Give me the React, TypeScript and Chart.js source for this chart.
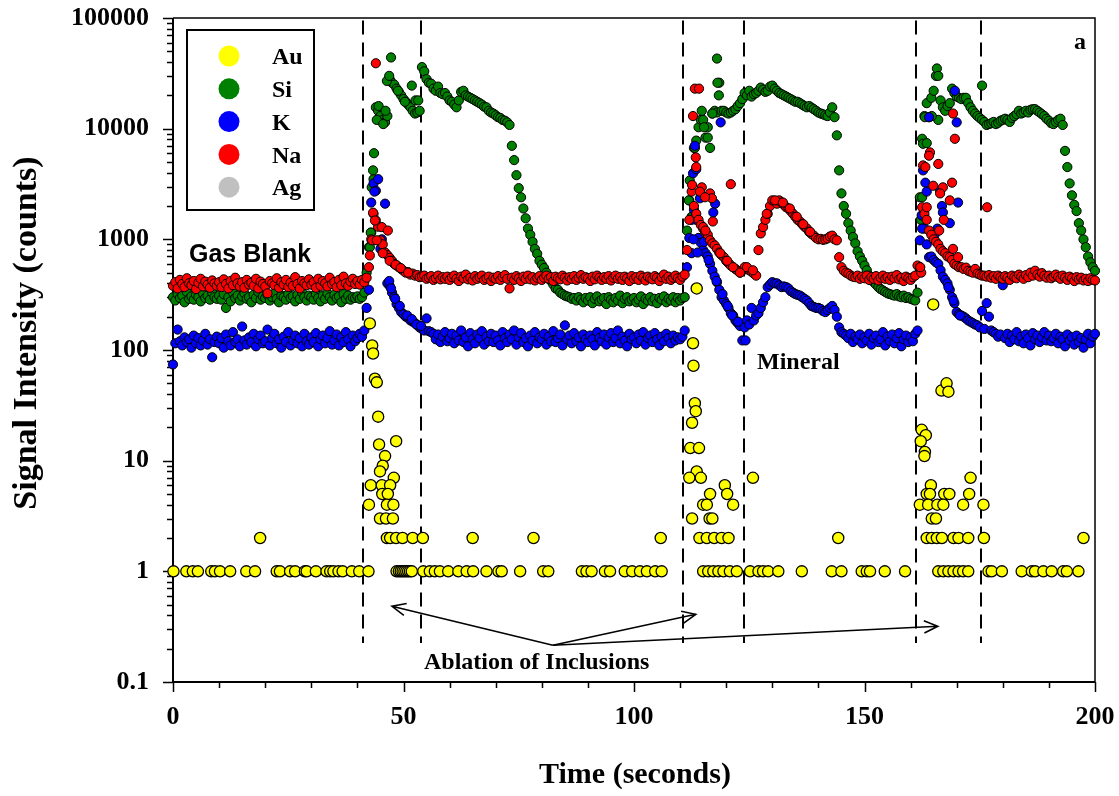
import { useEffect, useRef } from 'react';
import { Chart, registerables } from 'chart.js';

Chart.register(...registerables);

// ---------- DATA ----------
// Regular sweeps: one reading every 0.5 s from t = 0 s to t = 200 s.
const T_START = 0;
const T_STEP = 0.5;

const NA: number[] = [
  380, 410, 360, 430, 395, 370, 445, 400, 385, 420, 355, 405, 440, 375, 415, 390, 365, 425, 400, 380, // 0
  410, 370, 435, 395, 360, 420, 385, 450, 400, 375, 410, 365, 430, 390, 405, 380, 440, 360, 415, 395, // 10
  375, 325, 420, 400, 385, 445, 365, 410, 390, 430, 370, 405, 380, 455, 395, 360, 420, 400, 385, 435, // 20
  390, 410, 365, 440, 380, 420, 400, 375, 450, 395, 410, 370, 430, 385, 460, 400, 380, 415, 440, 395, // 30
  420, 390, 430, 410, 450, 560, 1000, 1700, 1480, 1300, 980, 900, 760, 720, 680, 640, 600, 580, 560, 540, // 40
  520, 500, 505, 480, 490, 470, 475, 455, 460, 470, 440, 450, 465, 430, 445, 470, 435, 455, 440, 460, // 50
  430, 455, 470, 440, 420, 460, 445, 480, 435, 450, 425, 465, 440, 455, 470, 430, 445, 460, 420, 450, // 60
  440, 465, 430, 455, 475, 440, 360, 450, 430, 465, 445, 420, 460, 440, 470, 435, 455, 425, 450, 465, // 70
  430, 450, 470, 440, 455, 420, 460, 445, 435, 470, 450, 425, 455, 440, 465, 430, 450, 475, 440, 455, // 80
  445, 420, 460, 435, 470, 450, 430, 455, 440, 465, 425, 450, 470, 440, 455, 430, 460, 445, 420, 465, // 90
  440, 455, 430, 470, 450, 425, 460, 445, 435, 465, 450, 420, 455, 480, 440, 460, 430, 450, 470, 445, // 100
  430, 460, 480, 800, 1500, 2700, 2000, 1700, 1500, 1350, 1250, 1150, 1100, 980, 920, 880, 820, 760, 720, 690, // 110
  640, 610, 580, 560, 540, 520, 500, 520, 560, 540, 525, 510, 490, 470, 800, 1130, 1290, 1500, 1700, 2000, // 120
  2250, 2200, 2100, 2250, 2150, 2050, 1950, 1900, 1800, 1700, 1600, 1500, 1450, 1370, 1300, 1250, 1170, 1120, 1080, 1030, // 130
  1000, 1010, 990, 1000, 1020, 1060, 1080, 1000, 980, 690, 560, 520, 500, 490, 470, 460, 455, 470, 440, 460, // 140
  445, 470, 430, 455, 440, 465, 425, 450, 470, 440, 455, 430, 460, 445, 475, 435, 450, 420, 460, 445, // 150
  430, 455, 470, 580, 560, 1950, 1700, 1500, 1200, 1100, 1000, 950, 900, 820, 780, 750, 700, 690, 650, 600, // 160
  580, 560, 560, 540, 555, 520, 510, 500, 540, 490, 480, 470, 470, 460, 475, 450, 465, 440, 470, 455, // 170
  440, 465, 450, 430, 470, 455, 445, 480, 460, 440, 475, 455, 500, 470, 520, 480, 460, 495, 470, 450, // 180
  470, 445, 460, 480, 455, 440, 470, 450, 430, 460, 445, 420, 455, 435, 450, 425, 440, 420, 445, 430, // 190
  425,
];

const SI: number[] = [
  300, 280, 320, 295, 310, 270, 335, 290, 305, 285, 315, 300, 275, 325, 295, 310, 285, 330, 300, 290, // 0
  310, 285, 320, 240, 300, 275, 330, 295, 310, 280, 305, 325, 290, 300, 270, 315, 295, 335, 285, 305, // 10
  295, 315, 280, 300, 325, 290, 270, 310, 300, 285, 320, 295, 305, 275, 315, 290, 330, 300, 280, 310, // 20
  300, 285, 320, 295, 275, 310, 290, 325, 300, 280, 315, 295, 305, 270, 320, 290, 310, 285, 300, 295, // 30
  305, 290, 300, 330, 500, 850, 1150, 3500, 15600, 14500, 13000, 12000, 11400, 13000, 28000, 26000, 25000, 23000, 21500, 20000, // 40
  18500, 17500, 16500, 15600, 14500, 13700, 14000, 14500, 36000, 33000, 28000, 26000, 25500, 23000, 22000, 24000, 21000, 20500, 21000, 19500, // 50
  18000, 17500, 16500, 15600, 18000, 21500, 22000, 20000, 19500, 19000, 18500, 18000, 17500, 17000, 16500, 15800, 15600, 14500, 14000, 13700, // 60
  13200, 12700, 12500, 12000, 11800, 11400, 10800, 7000, 5200, 3800, 2900, 2400, 1900, 1550, 1250, 1100, 950, 820, 740, 640, // 70
  590, 550, 500, 460, 420, 390, 360, 350, 330, 320, 310, 305, 300, 290, 295, 280, 300, 285, 270, 295, // 80
  280, 300, 265, 290, 305, 275, 285, 295, 260, 300, 285, 270, 295, 280, 310, 265, 290, 300, 275, 285, // 90
  295, 270, 285, 305, 260, 290, 280, 300, 275, 290, 265, 295, 285, 305, 270, 290, 280, 300, 270, 295, // 100
  280, 295, 300, 1200, 2250, 1600, 6700, 7800, 10300, 12000, 12000, 8300, 10300, 6700, 13700, 14500, 14000, 26000, 14500, 14500, // 110
  14000, 13700, 14000, 14500, 15000, 16000, 17000, 18500, 21000, 20000, 22000, 19500, 20500, 21000, 22000, 23500, 22500, 21500, 22000, 24000, // 120
  24500, 23000, 22000, 21000, 20500, 20000, 19500, 19000, 18500, 18000, 17500, 17500, 17000, 16500, 16000, 15600, 16000, 15500, 15000, 14500, // 130
  14000, 13700, 13500, 13200, 13000, 14000, 15600, 12700, 8700, 4200, 2600, 2000, 1700, 1400, 1200, 1050, 920, 780, 700, 640, // 140
  580, 525, 470, 430, 410, 390, 370, 355, 345, 335, 325, 320, 315, 310, 320, 305, 300, 310, 295, 300, // 150
  290, 285, 280, 330, 2400, 8100, 13000, 17000, 12700, 19000, 22000, 30000, 12000, 18000, 15600, 14500, 16000, 17000, 23000, 21000, // 160
  19500, 19000, 18500, 19000, 19000, 17000, 15600, 14500, 13700, 13000, 12500, 12000, 11500, 10800, 11000, 11200, 11500, 11000, 11300, 11800, // 170
  12000, 12300, 12000, 11500, 12500, 13000, 13500, 14500, 13700, 14000, 14500, 14000, 14800, 15000, 15000, 14500, 14000, 13500, 13000, 12300, // 180
  11800, 11200, 11000, 11500, 12000, 12300, 10800, 6300, 4500, 3200, 2500, 2050, 1800, 1400, 1200, 1000, 850, 700, 620, 560, // 190
  520,
];

const K: number[] = [
  74, 115, 153, 120, 110, 130, 118, 125, 105, 135, 115, 128, 110, 122, 140, 112, 125, 86, 118, 132, // 0
  115, 128, 105, 138, 120, 110, 145, 118, 125, 108, 163, 122, 112, 130, 118, 140, 108, 125, 135, 115, // 10
  120, 153, 110, 128, 140, 115, 125, 105, 132, 118, 145, 110, 122, 135, 115, 128, 108, 140, 120, 112, // 20
  130, 118, 142, 108, 125, 135, 115, 128, 148, 112, 122, 138, 110, 130, 118, 145, 125, 108, 135, 120, // 30
  128, 140, 132, 150, 240, 350, 2150, 3200, 2750, 3500, 820, 780, 2100, 400, 380, 330, 300, 260, 240, 220, // 40
  210, 200, 195, 185, 180, 175, 168, 160, 155, 150, 193, 148, 145, 140, 125, 138, 118, 132, 145, 120, // 50
  128, 140, 115, 135, 122, 150, 118, 130, 108, 142, 125, 115, 138, 128, 148, 112, 132, 120, 140, 118, // 60
  135, 122, 110, 145, 128, 118, 138, 125, 150, 112, 130, 142, 118, 128, 108, 135, 122, 145, 115, 130, // 70
  125, 140, 112, 132, 120, 148, 118, 128, 138, 110, 167, 125, 135, 115, 142, 120, 130, 108, 138, 125, // 80
  118, 135, 125, 110, 145, 128, 120, 138, 112, 130, 142, 118, 128, 150, 115, 132, 122, 108, 140, 125, // 90
  130, 115, 138, 122, 145, 112, 128, 135, 118, 142, 125, 110, 132, 120, 140, 128, 115, 135, 122, 130, // 100
  125, 132, 150, 560, 1030, 750, 1850, 1500, 1030, 930, 800, 750, 700, 600, 520, 460, 410, 350, 300, 280, // 110
  260, 240, 215, 205, 185, 175, 165, 122, 160, 185, 170, 240, 185, 205, 215, 240, 270, 300, 370, 390, // 120
  410, 400, 400, 385, 370, 375, 370, 360, 340, 330, 320, 315, 310, 300, 290, 280, 265, 250, 245, 240, // 130
  240, 235, 225, 220, 230, 240, 250, 230, 200, 160, 145, 140, 135, 128, 140, 118, 132, 125, 138, 115, // 140
  130, 122, 140, 112, 128, 135, 118, 125, 145, 110, 132, 120, 138, 115, 128, 142, 108, 125, 135, 118, // 150
  130, 120, 140, 150, 980, 1650, 1250, 900, 690, 700, 650, 620, 600, 525, 460, 430, 400, 350, 300, 265, // 160
  220, 210, 205, 200, 193, 185, 180, 175, 170, 167, 160, 225, 155, 265, 200, 150, 145, 140, 132, 138, // 170
  385, 128, 140, 118, 135, 125, 145, 120, 132, 115, 138, 128, 110, 142, 125, 135, 118, 130, 145, 122, // 180
  135, 120, 128, 140, 115, 132, 125, 108, 138, 122, 130, 112, 135, 118, 128, 105, 125, 140, 115, 132, // 190
  140,
];

// Extra readings inside the ablation bursts: [time, counts]
const NA_EXTRA: [number, number][] = [
  [44.0, 39000], [43.4, 1740], [43.8, 1480], [45.3, 1290], [46.6, 1200], [43.2, 980], [44.2, 980], [42.7, 715],
  [45.5, 750], [47.0, 640], [48.3, 590], [49.4, 550], [51.0, 500],
  [112.6, 3100], [112.8, 13000], [113.2, 23000], [114.1, 23000], [113.4, 5500], [113.5, 4500], [114.7, 2950],
  [116.5, 2600], [116.9, 2350], [121.0, 3150], [115.0, 1290], [115.5, 1200], [114.3, 2700], [115.4, 2400],
  [117.1, 1450], [118.7, 750], [120.2, 640], [121.5, 560], [123.0, 500], [124.5, 560], [125.8, 525],
  [128.8, 1700], [130.6, 2250], [132.3, 2150], [133.8, 1900], [135.3, 1600], [136.7, 1370], [138.2, 1170],
  [162.7, 4650], [163.2, 4500], [164.2, 6100], [164.0, 5700], [166.0, 4800], [164.9, 3050], [167.0, 2950],
  [169.0, 3250], [166.4, 2600], [168.5, 2250], [163.5, 1950], [169.2, 13700], [169.6, 8100], [167.2, 1500],
  [166.2, 1200], [169.2, 820], [170.3, 690], [176.6, 1950], [162.3, 500], [162.1, 560],
];

const SI_EXTRA: [number, number][] = [
  [43.6, 6000], [43.4, 4200], [43.1, 2950], [47.3, 44000], [46.4, 27000], [46.9, 30000], [51.8, 24500],
  [52.6, 18000], [53.2, 18000], [44.2, 12000], [44.6, 16000], [45.6, 11000], [46.1, 14500], [42.9, 1150],
  [42.7, 850], [48.8, 22000], [50.3, 17500],
  [118.0, 43000], [118.1, 26000], [118.4, 20000], [112.1, 3400], [113.2, 6700], [114.7, 14500], [112.6, 1600],
  [111.9, 2250], [116.0, 8300], [115.2, 10300], [117.0, 13700],
  [162.7, 7300], [163.5, 7400], [162.2, 1500], [165.7, 35000], [166.0, 30000], [175.5, 24500], [164.6, 13000],
  [163.1, 12700], [162.5, 2400],
];

const K_EXTRA: [number, number][] = [
  [43.7, 2700], [45.3, 1000], [46.9, 420], [47.3, 360], [48.2, 290], [49.2, 250], [50.8, 205], [51.8, 190],
  [52.8, 170], [53.8, 165],
  [112.8, 3950], [113.2, 7000], [113.5, 4300], [114.3, 2350], [117.6, 2100], [117.2, 1750], [118.8, 11400],
  [112.5, 1500], [112.9, 1000], [113.8, 760], [115.2, 950], [116.2, 650], [117.9, 420], [119.2, 320],
  [120.3, 250], [121.3, 205], [122.6, 180], [124.2, 122],
  [162.7, 4200], [163.2, 3250], [163.5, 2700], [164.0, 12700], [162.4, 1650], [166.4, 2750], [166.8, 2000],
  [167.0, 1750], [168.5, 1400], [165.8, 1250], [169.6, 22000], [170.0, 11400], [170.3, 2150], [162.5, 1250],
  [165.2, 1100], [168.2, 370], [169.3, 280], [170.7, 205],
];

// Au is mostly below detection; only non-zero readings: [time, counts]
const AU_POINTS: [number, number][] = [
  [0.1, 1], [2.9, 1], [4.3, 1], [5.4, 1], [8.3, 1], [9.1, 1], [10.2, 1], [12.4, 1], [15.9, 1], [17.8, 1],
  [18.9, 2], [22.5, 1], [23.2, 1], [25.4, 1], [26.5, 1], [28.6, 1], [29.0, 1], [31.0, 1], [33.3, 1], [34.1, 1],
  [34.8, 1], [35.9, 1], [36.8, 1], [38.8, 1], [40.4, 1], [42.4, 1],
  [42.7, 174], [43.2, 110], [43.4, 93], [43.8, 55], [44.2, 51], [44.5, 25], [44.7, 14], [48.4, 15], [46.0, 11],
  [45.5, 9], [44.9, 8], [47.9, 7], [42.9, 6], [45.3, 6], [47.1, 6], [45.4, 5], [46.6, 5], [42.5, 4], [46.4, 4],
  [47.8, 4], [44.9, 3], [46.2, 3], [47.7, 3],
  [46.4, 2], [47.1, 2], [48.4, 2], [49.8, 2], [52.0, 2], [54.2, 2], [65.0, 2], [78.2, 2], [105.8, 2],
  [48.5, 1], [49.0, 1], [49.4, 1], [49.8, 1], [50.2, 1], [50.6, 1], [51.0, 1], [51.4, 1], [51.8, 1], [54.3, 1],
  [55.7, 1], [56.8, 1], [57.9, 1], [59.7, 1], [61.9, 1], [63.7, 1], [65.1, 1], [68.0, 1], [70.6, 1], [71.3, 1],
  [75.3, 1], [80.3, 1], [81.4, 1], [88.7, 1], [89.7, 1], [90.8, 1], [93.7, 1], [94.8, 1], [98.0, 1], [99.6, 1],
  [101.3, 1], [102.8, 1], [104.6, 1], [106.0, 1],
  [113.6, 360], [112.8, 115], [112.9, 72], [113.2, 33], [113.4, 28], [112.6, 22], [112.2, 13], [114.1, 13],
  [113.6, 8], [112.0, 7], [114.5, 7], [116.5, 5], [115.0, 4], [115.8, 4], [112.6, 3], [116.4, 3], [117.0, 3],
  [119.7, 6], [120.2, 5], [121.5, 4], [125.8, 7],
  [114.2, 2], [115.8, 2], [117.4, 2], [119.0, 2], [120.5, 2], [144.3, 2],
  [115.0, 1], [116.1, 1], [117.2, 1], [118.3, 1], [119.4, 1], [120.8, 1], [122.3, 1], [125.2, 1], [127.0, 1],
  [128.0, 1], [129.1, 1], [131.3, 1], [136.4, 1], [142.9, 1], [145.0, 1], [149.4, 1], [150.5, 1], [151.2, 1],
  [154.4, 1], [158.8, 1],
  [164.9, 258], [166.7, 43], [167.8, 50], [168.2, 42], [162.4, 19], [163.3, 17], [162.2, 15], [163.1, 12],
  [163.0, 11], [173.0, 7], [164.4, 6], [163.5, 5], [164.2, 5], [167.3, 5], [168.4, 5], [172.7, 5], [162.0, 4],
  [163.8, 4], [165.8, 4], [167.1, 4], [171.4, 4], [175.8, 4], [164.6, 3], [165.5, 3],
  [163.5, 2], [164.6, 2], [165.7, 2], [166.8, 2], [169.3, 2], [170.4, 2], [172.5, 2], [175.9, 2], [197.5, 2],
  [166.0, 1], [167.1, 1], [168.2, 1], [169.3, 1], [170.4, 1], [171.4, 1], [172.5, 1], [176.9, 1], [177.6, 1],
  [179.8, 1], [184.1, 1], [186.3, 1], [187.0, 1], [188.8, 1], [190.6, 1], [193.1, 1], [193.9, 1], [196.4, 1],
];

const AG_POINTS: [number, number][] = [];

const SERIES_LABELS = ['Au', 'Si', 'K', 'Na', 'Ag'];
const SERIES_COLORS = ['#FFFF00', '#008000', '#0000FF', '#FF0000', '#C0C0C0'];

const X_TICKS = [0, 50, 100, 150, 200];
const X_TICK_LABELS = ['0', '50', '100', '150', '200'];
const X_MINOR_STEP = 10;
const Y_TICKS = [0.1, 1, 10, 100, 1000, 10000, 100000];
const Y_TICK_LABELS = ['0.1', '1', '10', '100', '1000', '10000', '100000'];

// Ablation window boundaries (s) and the vertical extent of the dashed markers (counts)
const DIVIDERS = [41.3, 53.9, 110.6, 123.9, 161.2, 175.3];
const DIVIDER_RANGE = [0.225, 95000];

// "Ablation of Inclusions" arrows: shared tail and three heads [time, counts]
const ARROW_TAIL: [number, number] = [82.4, 0.215];
const ARROW_HEADS: [number, number][] = [[47.5, 0.483], [113.4, 0.409], [165.9, 0.319]];

// ---------- BUILD ----------
const regular = (vals: number[]) => vals.map((v, i) => ({ x: T_START + i * T_STEP, y: v }));
const pairs = (p: [number, number][]) => p.map(([x, y]) => ({ x, y }));

const SERIF = "'Liberation Serif', 'Times New Roman', serif";
const SANS = "'Liberation Sans', Arial, sans-serif";

const zeroPad = (s: any) => {
  s.paddingTop = 0;
  s.paddingBottom = 0;
  s.paddingLeft = 0;
  s.paddingRight = 0;
};

const decor = {
  id: 'decor',
  beforeDatasetsDraw(chart: any) {
    const { ctx, chartArea: a, scales } = chart;
    const xs = scales.x;
    const ys = scales.y;
    ctx.save();
    ctx.strokeStyle = '#000';
    ctx.lineCap = 'butt';
    // frame (top, right)
    ctx.lineWidth = 1.5;
    ctx.beginPath();
    ctx.moveTo(a.left, a.top);
    ctx.lineTo(a.right, a.top);
    ctx.lineTo(a.right, a.bottom);
    ctx.stroke();
    // axes
    ctx.lineWidth = 2;
    ctx.beginPath();
    ctx.moveTo(a.left, a.top);
    ctx.lineTo(a.left, a.bottom);
    ctx.lineTo(a.right, a.bottom);
    ctx.stroke();
    // y ticks (major at decades, minor 2..9)
    ctx.lineWidth = 1.5;
    ctx.beginPath();
    for (let d = 0; d < Y_TICKS.length; d++) {
      const base = Y_TICKS[d];
      const py = Math.round(ys.getPixelForValue(base)) + 0.5;
      ctx.moveTo(a.left - 10, py);
      ctx.lineTo(a.left, py);
      if (d < Y_TICKS.length - 1) {
        for (let m = 2; m <= 9; m++) {
          const pm = Math.round(ys.getPixelForValue(base * m)) + 0.5;
          ctx.moveTo(a.left - 6, pm);
          ctx.lineTo(a.left, pm);
        }
      }
    }
    ctx.stroke();
    // x ticks
    ctx.beginPath();
    for (let t = xs.min; t <= xs.max + 1e-9; t += X_MINOR_STEP) {
      const px = Math.round(xs.getPixelForValue(t)) + 0.5;
      const major = X_TICKS.includes(t);
      ctx.moveTo(px, a.bottom);
      ctx.lineTo(px, a.bottom + (major ? 10 : 6));
    }
    ctx.stroke();
    // dashed ablation markers
    ctx.lineWidth = 2;
    ctx.setLineDash([14, 8]);
    ctx.beginPath();
    const yb = ys.getPixelForValue(DIVIDER_RANGE[0]);
    const yt = ys.getPixelForValue(DIVIDER_RANGE[1]);
    DIVIDERS.forEach((t) => {
      const px = Math.round(xs.getPixelForValue(t));
      ctx.moveTo(px, yt);
      ctx.lineTo(px, yb);
    });
    ctx.stroke();
    ctx.restore();
  },
  afterDatasetsDraw(chart: any) {
    const { ctx, scales } = chart;
    const xs = scales.x;
    const ys = scales.y;
    ctx.save();
    ctx.strokeStyle = '#000';
    ctx.fillStyle = '#000';
    // arrows
    ctx.lineWidth = 1.6;
    const tx = xs.getPixelForValue(ARROW_TAIL[0]);
    const ty = ys.getPixelForValue(ARROW_TAIL[1]);
    ARROW_HEADS.forEach(([ht, hv]) => {
      const hx = xs.getPixelForValue(ht);
      const hy = ys.getPixelForValue(hv);
      const ang = Math.atan2(hy - ty, hx - tx);
      const L = 15;
      const w = 0.42;
      ctx.beginPath();
      ctx.moveTo(tx, ty);
      ctx.lineTo(hx, hy);
      ctx.moveTo(hx - L * Math.cos(ang - w), hy - L * Math.sin(ang - w));
      ctx.lineTo(hx, hy);
      ctx.lineTo(hx - L * Math.cos(ang + w), hy - L * Math.sin(ang + w));
      ctx.stroke();
    });
    // annotations
    ctx.textBaseline = 'alphabetic';
    ctx.textAlign = 'left';
    ctx.font = `bold 25px ${SANS}`;
    ctx.fillText('Gas Blank', 189, 262);
    ctx.font = `bold 24px ${SERIF}`;
    ctx.fillText('Mineral', 757, 369);
    ctx.textBaseline = 'middle';
    ctx.fillText('Ablation of Inclusions', 424, 663);
    ctx.textAlign = 'center';
    ctx.fillText('a', 1080, 43);
    // axis titles
    ctx.font = `bold 30px ${SERIF}`;
    ctx.fillText('Time (seconds)', 635, 775);
    ctx.save();
    ctx.translate(27, 333);
    ctx.rotate(-Math.PI / 2);
    ctx.font = `bold 34px ${SERIF}`;
    ctx.fillText('Signal Intensity (counts)', 0, 0);
    ctx.restore();
    // legend
    ctx.lineWidth = 2;
    ctx.strokeRect(187, 30, 127, 180);
    ctx.font = `bold 24px ${SERIF}`;
    ctx.textAlign = 'left';
    ctx.textBaseline = 'middle';
    chart.data.datasets.forEach((ds: any, i: number) => {
      const cy = 56 + i * 32.8;
      ctx.beginPath();
      ctx.arc(229, cy, 10.5, 0, Math.PI * 2);
      ctx.fillStyle = ds.backgroundColor;
      ctx.fill();
      ctx.fillStyle = '#000';
      ctx.fillText(ds.label, 272, cy + 2);
    });
    ctx.restore();
  },
};

export default function App() {
  const ref = useRef<HTMLCanvasElement>(null);
  useEffect(() => {
    if (!ref.current) return;
    const mk = (i: number, data: { x: number; y: number }[], r: number, bw: number, order: number) => ({
      label: SERIES_LABELS[i],
      data,
      backgroundColor: SERIES_COLORS[i],
      borderColor: '#000000',
      pointBackgroundColor: SERIES_COLORS[i],
      pointBorderColor: '#000000',
      pointBorderWidth: bw,
      pointRadius: r,
      pointHoverRadius: r,
      showLine: false,
      clip: false as any,
      order,
    });
    const chart = new Chart(ref.current, {
      type: 'scatter',
      data: {
        datasets: [
          mk(0, pairs(AU_POINTS), 5.6, 1.3, 0),
          mk(1, regular(SI).concat(pairs(SI_EXTRA)), 4.6, 1, 3),
          mk(2, regular(K).concat(pairs(K_EXTRA)), 4.6, 1, 2),
          mk(3, regular(NA).concat(pairs(NA_EXTRA)), 4.6, 1, 1),
          mk(4, pairs(AG_POINTS), 4.6, 1, 4),
        ],
      },
      options: {
        animation: false,
        responsive: false,
        devicePixelRatio: 1,
        events: [],
        layout: { padding: { left: 0, right: 24, top: 18, bottom: 0 } },
        plugins: { legend: { display: false }, tooltip: { enabled: false } },
        scales: {
          x: {
            type: 'linear',
            position: 'bottom',
            min: 0,
            max: 200,
            afterBuildTicks: (s: any) => {
              s.ticks = X_TICKS.map((v) => ({ value: v }));
            },
            afterFit: (s: any) => {
              s.height = 114;
              zeroPad(s);
            },
            grid: { display: false, drawTicks: false },
            border: { display: false },
            ticks: {
              autoSkip: false,
              maxRotation: 0,
              padding: 20,
              color: '#000',
              font: { family: SERIF, size: 26, weight: 'bold' },
              callback: (_v: any, i: number) => X_TICK_LABELS[i],
            },
          },
          y: {
            type: 'logarithmic',
            min: 0.1,
            max: 100000,
            afterBuildTicks: (s: any) => {
              s.ticks = Y_TICKS.map((v) => ({ value: v }));
            },
            afterFit: (s: any) => {
              s.width = 173;
              zeroPad(s);
            },
            grid: { display: false, drawTicks: false },
            border: { display: false },
            ticks: {
              autoSkip: false,
              padding: 24,
              color: '#000',
              font: { family: SERIF, size: 26, weight: 'bold' },
              callback: (_v: any, i: number) => Y_TICK_LABELS[i],
            },
          },
        },
      } as any,
      plugins: [decor],
    });
    return () => chart.destroy();
  }, []);
  return (
    <div style={{ position: 'absolute', left: 0, top: 0, width: 1119, height: 796, background: '#ffffff' }}>
      <canvas ref={ref} width={1119} height={796} style={{ display: 'block' }} />
    </div>
  );
}
